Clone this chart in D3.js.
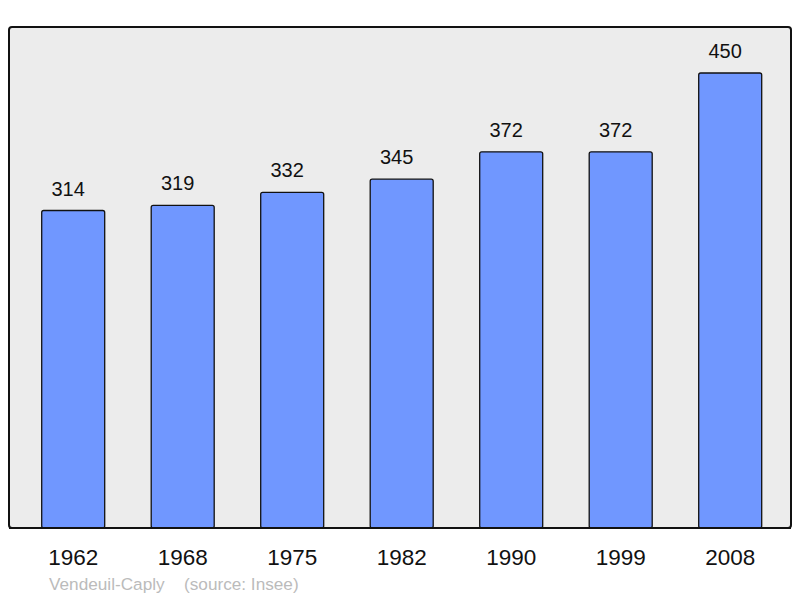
<!DOCTYPE html>
<html>
<head>
<meta charset="utf-8">
<script src="https://cdn.jsdelivr.net/npm/d3@7/dist/d3.min.js"></script>
<style>
  html, body { margin: 0; padding: 0; background: #fff; }
  svg { display: block; font-family: "Liberation Sans", Arial, sans-serif; }
</style>
</head>
<body>
<svg id="chart" width="800" height="598"></svg>
<script>
// population data
const years = ['1962', '1968', '1975', '1982', '1990', '1999', '2008'];
const population = [314, 319, 332, 345, 372, 372, 450];
const commune = 'Vendeuil-Caply';
const source = '(source: Insee)';

const W = 800, H = 598;
const frame = { x: 9, y: 27, w: 782, h: 501 };
const baseY = 528, topY = 73;

const svg = d3.select('#chart');

// ── frame ──────────────────────────────────────────────
svg.append('rect')
  .attr('x', frame.x).attr('y', frame.y)
  .attr('width', frame.w).attr('height', frame.h)
  .attr('rx', 3)
  .attr('fill', '#ececec')
  .attr('stroke', '#111').attr('stroke-width', 2);

// ── scales ─────────────────────────────────────────────
const x = d3.scaleBand()
  .domain(years)
  .range([18.45, 784.95])
  .paddingInner(0.4247)
  .paddingOuter(0.21235);

const y = d3.scaleLinear()
  .domain([0, d3.max(population)])
  .range([baseY, topY]);

const data = years.map((yr, i) => ({ year: yr, value: population[i] }));

// ── bars ───────────────────────────────────────────────
svg.append('g').selectAll('rect').data(data).join('rect')
  .attr('x', d => x(d.year))
  .attr('y', d => y(d.value))
  .attr('width', x.bandwidth())
  .attr('height', d => baseY - y(d.value))
  .attr('rx', 2)
  .attr('fill', '#7097ff')
  .attr('stroke', '#111').attr('stroke-width', 1.3);

// value labels (sit a little left of the bar centre in the original)
svg.append('g').selectAll('text').data(data).join('text')
  .attr('x', d => x(d.year) + x.bandwidth() / 2 - 5)
  .attr('y', d => y(d.value) - 15)
  .attr('text-anchor', 'middle')
  .attr('font-size', 20)
  .attr('fill', '#111')
  .text(d => d.value);

// redraw the baseline over the bar bottoms
svg.append('line')
  .attr('x1', frame.x).attr('x2', frame.x + frame.w)
  .attr('y1', baseY).attr('y2', baseY)
  .attr('stroke', '#111').attr('stroke-width', 2);

// ── x axis labels ──────────────────────────────────────
const xAxis = d3.axisBottom(x).tickSize(0).tickPadding(0);
const ax = svg.append('g')
  .attr('transform', `translate(0,${baseY})`)
  .call(xAxis);
ax.select('.domain').remove();
ax.selectAll('text')
  .attr('dy', null)
  .attr('y', 37)
  .attr('font-size', 22.5)
  .attr('font-family', '"Liberation Sans", Arial, sans-serif')
  .attr('fill', '#111');

// ── footer ─────────────────────────────────────────────
svg.append('text')
  .attr('x', 49).attr('y', 590)
  .attr('font-size', 17.2).attr('fill', '#bbb')
  .text(commune);
svg.append('text')
  .attr('x', 184).attr('y', 590)
  .attr('font-size', 17.2).attr('fill', '#bbb')
  .text(source);
</script>
</body>
</html>
